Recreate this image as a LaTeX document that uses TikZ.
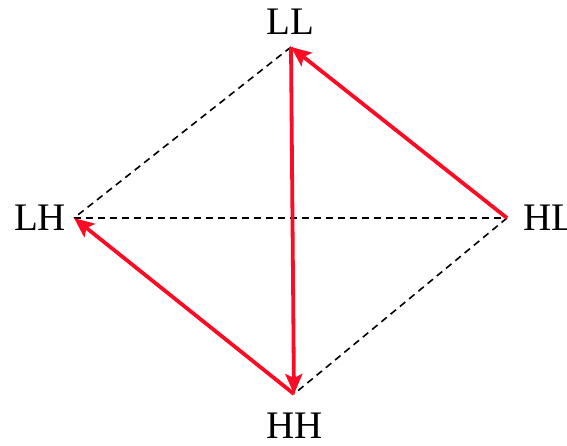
\documentclass[tikz,border=0pt]{standalone}
\usepackage{fontspec}
\setmainfont{Liberation Serif}
\definecolor{edgeRed}{RGB}{252,12,36}
\usetikzlibrary{arrows.meta,positioning}

\begin{document}
\begin{tikzpicture}[x=0.5pt, y=-0.5pt,
  lbl/.style={font=\fontsize{19.5}{22}\selectfont, inner sep=0pt},
  dsh/.style={dashed, dash pattern=on 3.5pt off 2.5pt, line width=0.8pt},
  arr/.style={-{Stealth[length=10pt, width=8.5pt, inset=2pt]}, edgeRed, line width=1.9pt}
]
  \useasboundingbox (0,0) rectangle (567,445);

  % corners of the square
  \coordinate (ll) at (291,47);
  \coordinate (lh) at (74,218);
  \coordinate (hl) at (507,218);
  \coordinate (hh) at (294,394);

  \node[lbl] (llT) at (290,22)  {LL};
  \node[lbl] (lhT) at (40,218)  {LH};
  \node[lbl] (hlT) at (549,218) {HL};
  \node[lbl] (hhT) at (295,426) {HH};

  \draw[dsh] (ll) -- (lh);
  \draw[dsh] (lh) -- (hl);
  \draw[dsh] (hl) -- (hh);

  \draw[arr] (hl) -- (ll);
  \draw[arr] (ll) -- (hh);
  \draw[arr] (hh) -- (lh);
\end{tikzpicture}
\end{document}
